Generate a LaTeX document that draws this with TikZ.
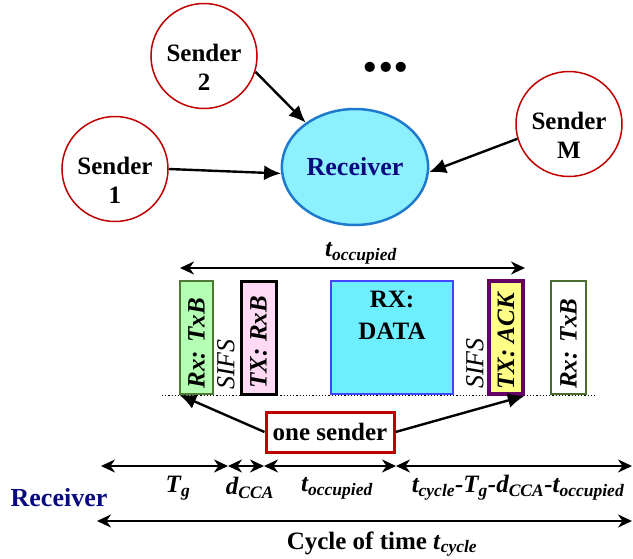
\documentclass[tikz,border=0pt]{standalone}
\usepackage{fontspec}
\setmainfont{Liberation Serif}
\usetikzlibrary{arrows.meta,shapes.geometric}
\definecolor{sendred}{HTML}{C00000}
\definecolor{rxblue}{HTML}{1E7ACC}
\definecolor{rxfill}{HTML}{8EF0FD}
\definecolor{navytext}{HTML}{0A0A80}
\definecolor{txbgreen}{HTML}{B4FFB4}
\definecolor{txbedge}{HTML}{4E7A36}
\definecolor{rxbpink}{HTML}{FFDAF4}
\definecolor{datafill}{HTML}{6EEFFF}
\definecolor{dataedge}{HTML}{4444FF}
\definecolor{ackfill}{HTML}{FFFF88}
\definecolor{ackedge}{HTML}{660066}
\definecolor{lastedge}{HTML}{4A6A2E}
% italic symbol with italic subscript
\newcommand\tsub[2]{\textit{#1}\textsubscript{\textit{#2}}}
\tikzset{
    big/.style={font=\fontsize{25}{29}\selectfont\bfseries},
    tlabel/.style={inner sep=0, font=\fontsize{25}{29}\selectfont\bfseries\itshape},
    sender/.style={ellipse, draw=sendred, line width=1.5pt, fill=white,
        minimum width=106, minimum height=105},
    sendertxt/.style={big, align=center, yshift=-11pt},
    receiver/.style={ellipse, draw=rxblue, line width=2.5pt, fill=rxfill,
        minimum width=134, minimum height=116, big, text=navytext,
        font=\fontsize{26}{30}\selectfont\bfseries},
    slot/.style={draw, minimum height=113, inner sep=0},
    vlabel/.style={rotate=90, anchor=west, inner sep=0,
        font=\fontsize{25}{28}\selectfont\bfseries\itshape},
    sifs/.style={rotate=90, anchor=west, inner sep=0,
        font=\fontsize{26}{30}\selectfont\itshape},
    sendarrow/.style={-{Latex[length=17pt,width=15pt]}, line width=2.4pt},
    timearrow/.style={{Stealth[length=14pt,width=13pt,inset=4.5pt]}-{Stealth[length=14pt,width=13pt,inset=4.5pt]},
        line width=2.3pt},
}

\begin{document}
\begin{tikzpicture}[x=1pt,y=-1pt]
\useasboundingbox (0,0) rectangle (633,558);

% senders around the receiver
\node[receiver] (rx) at (355,167) {Receiver};
\node[sender, label={[sendertxt]center:Sender\\1}] (s1) at (115,169) {};
\node[sender, label={[sendertxt]center:Sender\\2}] (s2) at (204,56) {};
\node[sender, label={[sendertxt]center:Sender\\M}] (sM) at (569,124) {};
\node[inner sep=0, font=\fontsize{62}{62}\selectfont\bfseries] (dots) at (386,67) {...};

\draw[sendarrow] (s1.east) -- (rx.185);
\draw[sendarrow] (s2.-17) -- (rx.138);
\draw[sendarrow] (sM.196) -- (rx.-4);

% channel slots
\draw[line width=1pt, dash pattern=on 1.2pt off 2pt] (162,395) -- (595,395);
\node[slot, draw=txbedge, line width=1.5pt, fill=txbgreen, minimum width=33] (b1) at (196.5,337.5) {};
\node[slot, draw=black, line width=3pt, fill=rxbpink, minimum width=35] (b2) at (258.5,337.5) {};
\node[slot, draw=dataedge, line width=2pt, fill=datafill, minimum width=122] (data) at (392,337.5) {};
\node[slot, draw=ackedge, line width=3.5pt, fill=ackfill, minimum width=34] (ack) at (506,337.5) {};
\node[slot, draw=lastedge, line width=2pt, fill=white, minimum width=35] (b5) at (568.5,337.5) {};

\node[vlabel] (l1) at ([yshift=6pt]b1.south) {Rx: TxB};
\node[vlabel] (l2) at ([yshift=7pt]b2.south) {TX: RxB};
\node[vlabel] (l4) at ([yshift=6pt]ack.south) {TX: ACK};
\node[vlabel] (l5) at ([yshift=6pt]b5.south) {Rx: TxB};
\node[big, align=center, inner sep=0, anchor=north, font=\fontsize{25}{32}\selectfont\bfseries]
    (l3) at ([yshift=-11pt]data.north) {RX:\\DATA};
\node[sifs] (sifs1) at (226,390) {SIFS};
\node[sifs] (sifs2) at (475,389) {SIFS};

\coordinate (o1) at (180,268);
\coordinate (o2) at (525,268);
\draw[timearrow] (o1) -- (o2);
\node[tlabel] (occ) at (361,253) {\tsub{t}{occupied}};

\node[big, draw=sendred, line width=3pt, minimum width=128, minimum height=40, inner sep=0]
    (one) at (330,432) {one sender};
\draw[sendarrow] (one.west) -- (b1.south west);
\draw[sendarrow] (one.east) -- (ack.south east);

% receiver cycle
\foreach \n/\x in {0/101,1/228,2/264,3/396,4/632}
    \coordinate (t\n) at (\x,466);
\foreach \a/\b in {0/1,1/2,2/3,3/4}
    \draw[timearrow] (t\a) -- (t\b);
\node[tlabel] (tg) at (178,488) {\tsub{T}{g}};
\node[tlabel] (dcca) at (250,488) {\tsub{d}{CCA}};
\node[tlabel] (tocc) at (337,488) {\tsub{t}{occupied}};
\node[tlabel] (rest) at (518,488) {\tsub{t}{cycle}-\tsub{T}{g}-\tsub{d}{CCA}-\tsub{t}{occupied}};
\node[big, text=navytext, font=\fontsize{26}{30}\selectfont\bfseries] (rlab) at (59,498) {Receiver};

\coordinate (c0) at (97,521);
\coordinate (c1) at (632,521);
\draw[timearrow] (c0) -- (c1);
\node[big] (cyc) at (382,544) {Cycle of time \tsub{t}{cycle}};
\end{tikzpicture}
\end{document}
